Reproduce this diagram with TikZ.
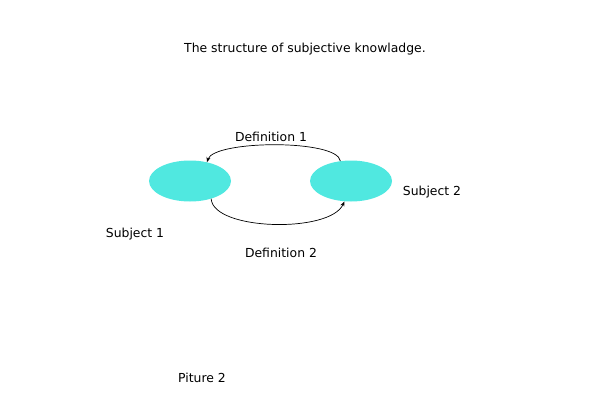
\documentclass[tikz,border=0pt]{standalone}
\usepackage{fontspec}
\setmainfont{DejaVu Sans}
\usepackage{tikz}
\usetikzlibrary{positioning, arrows.meta, shapes.geometric}
\definecolor{subjc}{HTML}{50E8E0}

\begin{document}
\begin{tikzpicture}[x=1pt, y=-1pt,
    subj/.style={ellipse, fill=subjc, minimum width=82pt, minimum height=41pt, inner sep=0pt},
    lbl/.style={font=\fontsize{12.4}{15}\selectfont},
    defarrow/.style={line width=0.7pt, -{Stealth[length=5pt, width=4pt]}}]
  % page frame
  \useasboundingbox (0,0) rectangle (600,400);
  % title
  \node[lbl] (title) at (305,49) {The structure of subjective knowladge.};
  % the two subjects
  \node[subj] (s1) at (190,181) {};
  \node[subj] (s2) at (351,181) {};
  \node[lbl] (s1lbl) at (135,234) {Subject 1};
  \node[lbl] (s2lbl) at (432,192) {Subject 2};
  % definitions between them
  \draw[defarrow] (s2.118) .. controls +(-3,-22) and +(7,-22) .. (s1.48);
  \draw[defarrow] (s1.-40) .. controls +(2,32) and +(-14,32) .. (s2.-108);
  \node[lbl] (def1) at (271,137) {Definition 1};
  \node[lbl] (def2) at (281,253) {Definition 2};
  % caption
  \node[lbl] (cap) at (202,378) {Piture 2};
\end{tikzpicture}
\end{document}
